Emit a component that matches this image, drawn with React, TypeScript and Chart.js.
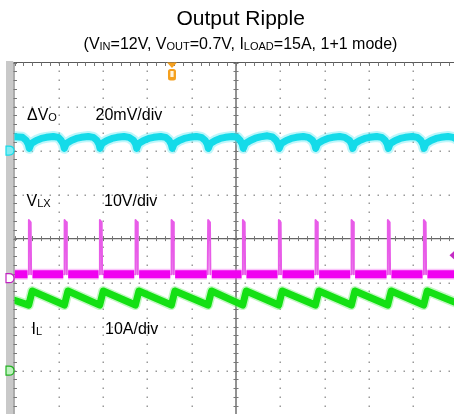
import React, { useEffect, useRef } from "react";
import { Chart, registerables } from "chart.js";

Chart.register(...registerables);

// Screen geometry: 10 horizontal divisions, 8 vertical divisions (centre = 0)
const X_DIVS = [0, 10];
const Y_DIVS = [-4, 4];

// Channel vertical scales (min/max of each channel over the 8 divisions)
const voRangeMv = [-120, 40]; // 20 mV/div, ground at +2 div
const vlxRangeV = [-31, 49]; // 10 V/div
const ilRangeA = [-10, 70]; // 10 A/div, ground at -3 div

// ΔVo, AC ripple (time in divisions, value in mV)
const voTimes = [
  0, 0.181, 0.264, 0.309,
  0.334, 0.379, 0.492, 0.605, 0.718, 0.876, 0.989, 1.054, 1.099,
  1.124, 1.169, 1.282, 1.395, 1.508, 1.666, 1.779, 1.86, 1.905,
  1.93, 1.975, 2.088, 2.201, 2.314, 2.472, 2.585, 2.688, 2.733,
  2.758, 2.803, 2.916, 3.029, 3.142, 3.3, 3.413, 3.492, 3.537,
  3.562, 3.607, 3.72, 3.833, 3.946, 4.104, 4.217, 4.305, 4.35,
  4.375, 4.42, 4.533, 4.646, 4.759, 4.917, 5.03, 5.095, 5.14,
  5.165, 5.21, 5.323, 5.436, 5.549, 5.707, 5.82, 5.907, 5.952,
  5.977, 6.022, 6.135, 6.248, 6.361, 6.519, 6.632, 6.729, 6.774,
  6.799, 6.844, 6.957, 7.07, 7.183, 7.341, 7.454, 7.564, 7.609,
  7.634, 7.679, 7.792, 7.905, 8.018, 8.176, 8.289, 8.368, 8.413,
  8.438, 8.483, 8.596, 8.709, 8.822, 8.98, 9.093, 9.174, 9.219,
  9.244, 9.289, 9.402, 9.515, 9.628, 9.786, 9.899, 10,
];
const voMillivolts = [
  6.3, 6.0, 4.6, 3.0,
  1.0, 3.2, 4.6, 5.5, 6.0, 6.4, 6.0, 4.6, 3.0,
  1.0, 3.2, 4.6, 5.5, 6.0, 6.4, 6.0, 4.6, 3.0,
  1.0, 3.2, 4.6, 5.5, 6.0, 6.4, 6.0, 4.6, 3.0,
  1.0, 3.2, 4.6, 5.5, 6.0, 6.4, 6.0, 4.6, 3.0,
  1.0, 3.2, 4.6, 5.5, 6.0, 6.4, 6.0, 4.6, 3.0,
  1.0, 3.2, 4.6, 5.5, 6.0, 6.4, 6.0, 4.6, 3.0,
  1.0, 3.2, 4.6, 5.6, 6.2, 6.7, 6.2, 4.6, 3.0,
  1.0, 3.2, 4.6, 5.5, 6.0, 6.4, 6.0, 4.6, 3.0,
  1.0, 3.2, 4.6, 5.5, 6.0, 6.4, 6.0, 4.6, 3.0,
  1.0, 3.2, 4.6, 5.5, 6.0, 6.4, 6.0, 4.6, 3.0,
  1.0, 3.2, 4.6, 5.5, 6.0, 6.4, 6.0, 4.6, 3.0,
  1.0, 3.2, 4.6, 5.5, 6.0, 6.4, 6.0, 5.0,
];

// Switch node V_LX: rising / falling edge times (div) and levels (V)
const vlxRise = [0.325, 1.131, 1.928, 2.733, 3.546, 4.372, 5.156, 5.968, 6.796, 7.609, 8.428, 9.241];
const vlxFall = [0.375, 1.181, 1.978, 2.783, 3.596, 4.422, 5.206, 6.018, 6.846, 7.659, 8.478, 9.291];
const vlxHigh = [13.2, 13.2, 13.2, 13.2, 13.2, 13.2, 13.2, 13.2, 13.2, 13.2, 13.2, 13.2];
const vlxLow = 0.9;

// Inductor current I_L (time in div, value in A)
const ilTimes = [
  0,
  0.32, 0.4, 1.126, 1.206, 1.923, 2.003, 2.728, 2.808,
  3.541, 3.621, 4.367, 4.447, 5.151, 5.231, 5.963, 6.043,
  6.791, 6.871, 7.604, 7.684, 8.423, 8.503, 9.236, 9.316,
  10,
];
const ilAmps = [
  16.0,
  14.9, 18.1, 14.9, 18.1, 14.9, 18.1, 14.9, 18.1,
  14.9, 18.1, 14.9, 18.1, 14.9, 18.1, 14.9, 18.1,
  14.9, 18.1, 14.9, 18.1, 14.9, 18.1, 14.9, 18.1,
  15.3,
];

// Trigger position (div) and level (V on V_LX)
const triggerTime = 3.555;
const triggerLevel = 5.2;

const CYAN = "#14dbe9";
const MAGENTA = "#f000f0";
const GREEN = "#14e014";
const ORANGE = "#f5a01e";

const FONT = '"Liberation Sans", Arial, Helvetica, sans-serif';

const scopeDecor = {
  id: "scopeDecor",
  beforeDatasetsDraw(chart: any) {
    const { ctx, chartArea: a, scales } = chart;
    const xs = scales.x;
    const ys = scales.y;
    ctx.save();
    // grey strip on the left of the screen
    ctx.fillStyle = "#c9c9c9";
    ctx.fillRect(a.left - 8.5, a.top - 1.5, 7.2, a.bottom - a.top + 3);

    // dotted graticule: one dot per minor division along every major line
    ctx.fillStyle = "#9a9a9a";
    for (let gx = 1; gx <= 9; gx++) {
      if (gx === 5) continue;
      const px = Math.round(xs.getPixelForValue(gx));
      for (let i = -20; i <= 20; i++) {
        const py = Math.round(ys.getPixelForValue(i / 5));
        ctx.fillRect(px - 0.5, py - 0.5, 1.5, 1.5);
      }
    }
    for (let gy = -3; gy <= 3; gy++) {
      if (gy === 0) continue;
      const py = Math.round(ys.getPixelForValue(gy));
      for (let i = 0; i <= 50; i++) {
        const px = Math.round(xs.getPixelForValue(i / 5));
        ctx.fillRect(px - 0.5, py - 0.5, 1.5, 1.5);
      }
    }

    // screen borders
    ctx.strokeStyle = "#5a5a5a";
    ctx.lineWidth = 1.2;
    ctx.beginPath();
    ctx.moveTo(a.left - 1, a.top);
    ctx.lineTo(a.right, a.top);
    ctx.stroke();
    ctx.strokeStyle = "#7a7a7a";
    ctx.beginPath();
    ctx.moveTo(a.left - 0.5, a.top);
    ctx.lineTo(a.left - 0.5, a.bottom);
    ctx.stroke();

    // centre crosshair
    const cx = xs.getPixelForValue(5);
    const cy = ys.getPixelForValue(0);
    ctx.strokeStyle = "#666";
    ctx.lineWidth = 1.4;
    ctx.beginPath();
    ctx.moveTo(a.left, cy);
    ctx.lineTo(a.right, cy);
    ctx.moveTo(cx, a.top);
    ctx.lineTo(cx, a.bottom);
    ctx.stroke();

    // minor ticks (5 per division)
    ctx.lineWidth = 1;
    ctx.strokeStyle = "#777";
    ctx.beginPath();
    for (let i = 0; i <= 50; i++) {
      const px = Math.round(xs.getPixelForValue(i / 5)) + 0.5;
      ctx.moveTo(px, cy - 2.5);
      ctx.lineTo(px, cy + 2.5);
      ctx.moveTo(px, a.top);
      ctx.lineTo(px, a.top + 3.5);
    }
    for (let i = -20; i <= 20; i++) {
      const py = Math.round(ys.getPixelForValue(i / 5)) + 0.5;
      ctx.moveTo(cx - 2.5, py);
      ctx.lineTo(cx + 2.5, py);
      ctx.moveTo(a.left - 1, py);
      ctx.lineTo(a.left + 2.5, py);
    }
    ctx.stroke();
    ctx.restore();
  },
  afterDatasetsDraw(chart: any) {
    const { ctx, chartArea: a, scales } = chart;
    ctx.save();
    // channel ground markers
    const tab = (yPix: number, color: string, fill: string) => {
      ctx.beginPath();
      ctx.moveTo(a.left - 8.5, yPix - 4.5);
      ctx.lineTo(a.left - 5.5, yPix - 4.5);
      ctx.quadraticCurveTo(a.left - 0.5, yPix - 4.5, a.left - 0.5, yPix);
      ctx.quadraticCurveTo(a.left - 0.5, yPix + 4.5, a.left - 5.5, yPix + 4.5);
      ctx.lineTo(a.left - 8.5, yPix + 4.5);
      ctx.closePath();
      ctx.fillStyle = fill;
      ctx.fill();
      ctx.strokeStyle = color;
      ctx.lineWidth = 1.2;
      ctx.stroke();
    };
    tab(scales.vo.getPixelForValue(0), CYAN, "#7fecf3");
    tab(scales.vlx.getPixelForValue(0), "#c020c0", "#ffffff");
    tab(scales.il.getPixelForValue(0), "#20b020", "#bff3bf");

    // trigger position marker
    const tx = scales.x.getPixelForValue(triggerTime);
    ctx.fillStyle = ORANGE;
    ctx.beginPath();
    ctx.moveTo(tx - 5, a.top);
    ctx.lineTo(tx + 5, a.top);
    ctx.lineTo(tx, a.top + 5.5);
    ctx.closePath();
    ctx.fill();
    ctx.beginPath();
    ctx.roundRect(tx - 4, a.top + 6.5, 8, 11.5, 2.5);
    ctx.fill();
    ctx.fillStyle = "#fff3dc";
    ctx.fillRect(tx - 1.6, a.top + 8.5, 3.2, 6);

    // trigger level marker
    const ty = scales.vlx.getPixelForValue(triggerLevel);
    ctx.fillStyle = "#c42cc4";
    ctx.beginPath();
    ctx.moveTo(449.5, ty);
    ctx.lineTo(455, ty - 5);
    ctx.lineTo(455, ty + 5);
    ctx.closePath();
    ctx.fill();
    ctx.restore();
  },
};

function buildVlxBase() {
  const pts: { x: number; y: number | null }[] = [];
  let start = 0;
  vlxRise.forEach((r, i) => {
    pts.push({ x: start, y: vlxLow }, { x: r - 0.03, y: vlxLow }, { x: r, y: null });
    start = vlxFall[i] + 0.03;
  });
  pts.push({ x: start, y: vlxLow }, { x: 10, y: vlxLow });
  return pts;
}

function buildVlxPulses() {
  const pts: { x: number; y: number | null }[] = [];
  vlxRise.forEach((r, i) => {
    const f = vlxFall[i];
    pts.push(
      { x: r - 0.01, y: vlxLow },
      { x: r, y: vlxHigh[i] },
      { x: f - 0.01, y: vlxHigh[i] - 0.5 },
      { x: f, y: vlxLow },
      { x: f + 0.001, y: null }
    );
  });
  return pts;
}

export default function App() {
  const ref = useRef<HTMLCanvasElement | null>(null);

  useEffect(() => {
    if (!ref.current) return;
    const vo = voTimes.map((t, i) => ({ x: t, y: voMillivolts[i] }));
    const il = ilTimes.map((t, i) => ({ x: t, y: ilAmps[i] }));
    const gridScale = {
      type: "linear" as const,
      ticks: { display: false, stepSize: 1 },
      grid: { display: false, drawTicks: false },
      border: { display: false },
    };
    const chart = new Chart(ref.current, {
      type: "line",
      data: {
        datasets: [
          { data: vo, yAxisID: "vo", borderColor: CYAN, borderWidth: 7, order: 1 },
          { data: vo, yAxisID: "vo", borderColor: "rgba(110,236,245,0.45)", borderWidth: 11, order: 6 },
          { data: buildVlxPulses(), yAxisID: "vlx", borderColor: "#e85ce8", borderWidth: 2, order: 2 },
          { data: buildVlxBase(), yAxisID: "vlx", borderColor: MAGENTA, borderWidth: 8, borderCapStyle: "butt", order: 3 },
          { data: buildVlxBase(), yAxisID: "vlx", borderColor: "rgba(245,110,245,0.4)", borderWidth: 11, borderCapStyle: "butt", order: 7 },
          { data: il, yAxisID: "il", borderColor: GREEN, borderWidth: 7, order: 4 },
          { data: il, yAxisID: "il", borderColor: "rgba(120,240,120,0.45)", borderWidth: 10, order: 8 },
        ],
      },
      options: {
        animation: false,
        responsive: false,
        devicePixelRatio: 1,
        events: [],
        layout: { padding: { left: 14.5, top: 62.5, right: 4.5, bottom: 5.3 } },
        plugins: { legend: { display: false }, tooltip: { enabled: false }, title: { display: false } },
        elements: {
          point: { radius: 0 },
          line: { tension: 0, borderJoinStyle: "round", borderCapStyle: "round" },
        },
        scales: {
          x: { ...gridScale, min: X_DIVS[0], max: X_DIVS[1] },
          y: { ...gridScale, min: Y_DIVS[0], max: Y_DIVS[1] },
          vo: { type: "linear", axis: "y", position: "left", display: false, min: voRangeMv[0], max: voRangeMv[1] },
          vlx: { type: "linear", axis: "y", position: "left", display: false, min: vlxRangeV[0], max: vlxRangeV[1] },
          il: { type: "linear", axis: "y", position: "left", display: false, min: ilRangeA[0], max: ilRangeA[1] },
        },
      } as any,
      plugins: [scopeDecor],
    });
    return () => chart.destroy();
  }, []);

  const sub = (t: string) => (
    <span style={{ fontSize: 11, position: "relative", top: 1 }}>{t}</span>
  );
  const label = (left: number, top: number, content: React.ReactNode) => (
    <div
      style={{
        position: "absolute",
        left,
        top,
        fontSize: 16,
        lineHeight: "16px",
        whiteSpace: "nowrap",
        color: "#000",
      }}
    >
      {content}
    </div>
  );

  return (
    <div
      style={{
        position: "fixed",
        left: 0,
        top: 0,
        width: 454,
        height: 414,
        overflow: "hidden",
        background: "#fff",
        fontFamily: FONT,
      }}
    >
      <canvas ref={ref} width={462} height={420} style={{ position: "absolute", left: 0, top: 0 }} />
      <div
        style={{
          position: "absolute",
          left: 240.7,
          top: 6.7,
          transform: "translateX(-50%)",
          fontSize: 21,
          lineHeight: "21px",
          whiteSpace: "nowrap",
          color: "#000",
        }}
      >
        Output Ripple
      </div>
      <div
        style={{
          position: "absolute",
          left: 240.5,
          top: 35.5,
          transform: "translateX(-50%)",
          fontSize: 16,
          lineHeight: "16px",
          whiteSpace: "nowrap",
          color: "#000",
        }}
      >
        (V{sub("IN")}=12V, V{sub("OUT")}=0.7V, I{sub("LOAD")}=15A, 1+1 mode)
      </div>
      {label(27, 106.5, <>ΔV{sub("O")}</>)}
      {label(95.5, 106.5, "20mV/div")}
      {label(26.5, 193, <>V{sub("LX")}</>)}
      {label(104, 193, "10V/div")}
      {label(31.5, 320.5, <>I{sub("L")}</>)}
      {label(105, 320.5, "10A/div")}
    </div>
  );
}
